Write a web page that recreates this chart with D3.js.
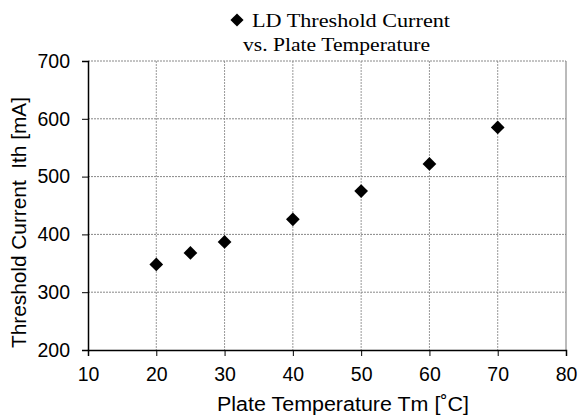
<!DOCTYPE html>
<html>
<head>
  <meta charset="utf-8">
  <title>LD Threshold Current</title>
  <script src="https://d3js.org/d3.v7.min.js"></script>
  <style>
    body { margin: 0; background: #fff; }
  </style>
</head>
<body>
<script>
// data
var temps = [20, 25, 30, 40, 50, 60, 70];
var ith = [348, 368, 387, 426, 475, 522, 585];
var xTicks = [10, 20, 30, 40, 50, 60, 70, 80];
var yTicks = [200, 300, 400, 500, 600, 700];

var width = 579, height = 419;
var pLeft = 88, pRight = 566, pTop = 61, pBottom = 350;
var sans = 'Liberation Sans, Arial, sans-serif';
var serif = 'Liberation Serif, Times New Roman, serif';

var svg = d3.select('body').append('svg')
  .attr('width', width).attr('height', height);

var x = d3.scaleLinear().domain([10, 80]).range([pLeft, pRight]);
var y = d3.scaleLinear().domain([200, 700]).range([pBottom, pTop]);

// grid lines
svg.append('g').selectAll('line')
  .data(xTicks.slice(1, -1))
  .enter().append('line')
  .attr('x1', function (d) { return x(d); }).attr('x2', function (d) { return x(d); })
  .attr('y1', pTop).attr('y2', pBottom)
  .attr('stroke', '#999').attr('stroke-dasharray', '2,1');

svg.append('g').selectAll('line')
  .data(yTicks.slice(1))
  .enter().append('line')
  .attr('x1', pLeft).attr('x2', pRight)
  .attr('y1', function (d) { return y(d); }).attr('y2', function (d) { return y(d); })
  .attr('stroke', '#888').attr('stroke-dasharray', '2,1');

// right border
svg.append('line')
  .attr('x1', pRight).attr('x2', pRight).attr('y1', pTop).attr('y2', pBottom)
  .attr('stroke', '#777');

// axes
var xAxis = svg.append('g')
  .attr('transform', 'translate(0,' + pBottom + ')')
  .call(d3.axisBottom(x).tickValues(xTicks).tickSize(6).tickPadding(11));
var yAxis = svg.append('g')
  .attr('transform', 'translate(' + pLeft + ',0)')
  .call(d3.axisLeft(y).tickValues(yTicks).tickSize(6).tickPadding(12));

[xAxis, yAxis].forEach(function (g) {
  g.select('.domain').attr('stroke', '#000').attr('stroke-width', 1.5);
  g.selectAll('.tick line').attr('stroke', '#000');
  g.selectAll('.tick text')
    .attr('font-family', sans)
    .attr('font-size', 19.5).attr('fill', '#000');
});

// points
var diamond = d3.symbol().type(d3.symbolDiamond2).size(120);
svg.append('g').selectAll('path')
  .data(temps)
  .enter().append('path')
  .attr('d', diamond)
  .attr('transform', function (d, i) { return 'translate(' + x(d) + ',' + y(ith[i]) + ')'; })
  .attr('fill', '#000');

// title
var title = svg.append('g')
  .attr('font-family', serif)
  .attr('font-size', 19).attr('fill', '#000');
title.append('path')
  .attr('d', d3.symbol().type(d3.symbolDiamond2).size(110))
  .attr('transform', 'translate(237,20)');
title.append('text').attr('x', 252).attr('y', 27)
  .attr('textLength', 198).attr('lengthAdjust', 'spacingAndGlyphs')
  .text('LD Threshold Current');
title.append('text').attr('x', 243).attr('y', 51)
  .attr('textLength', 187).attr('lengthAdjust', 'spacingAndGlyphs')
  .text('vs. Plate Temperature');

// axis titles
svg.append('text')
  .attr('x', 217).attr('y', 411)
  .attr('font-family', sans)
  .attr('font-size', 20)
  .attr('textLength', 252).attr('lengthAdjust', 'spacingAndGlyphs')
  .text('Plate Temperature Tm [\u02DAC]');

svg.append('text')
  .attr('transform', 'translate(26,348) rotate(-90)')
  .attr('font-family', sans)
  .attr('font-size', 20)
  .attr('textLength', 251).attr('lengthAdjust', 'spacingAndGlyphs')
  .style('white-space', 'pre')
  .text('Threshold Current  Ith [mA]');
</script>
</body>
</html>
